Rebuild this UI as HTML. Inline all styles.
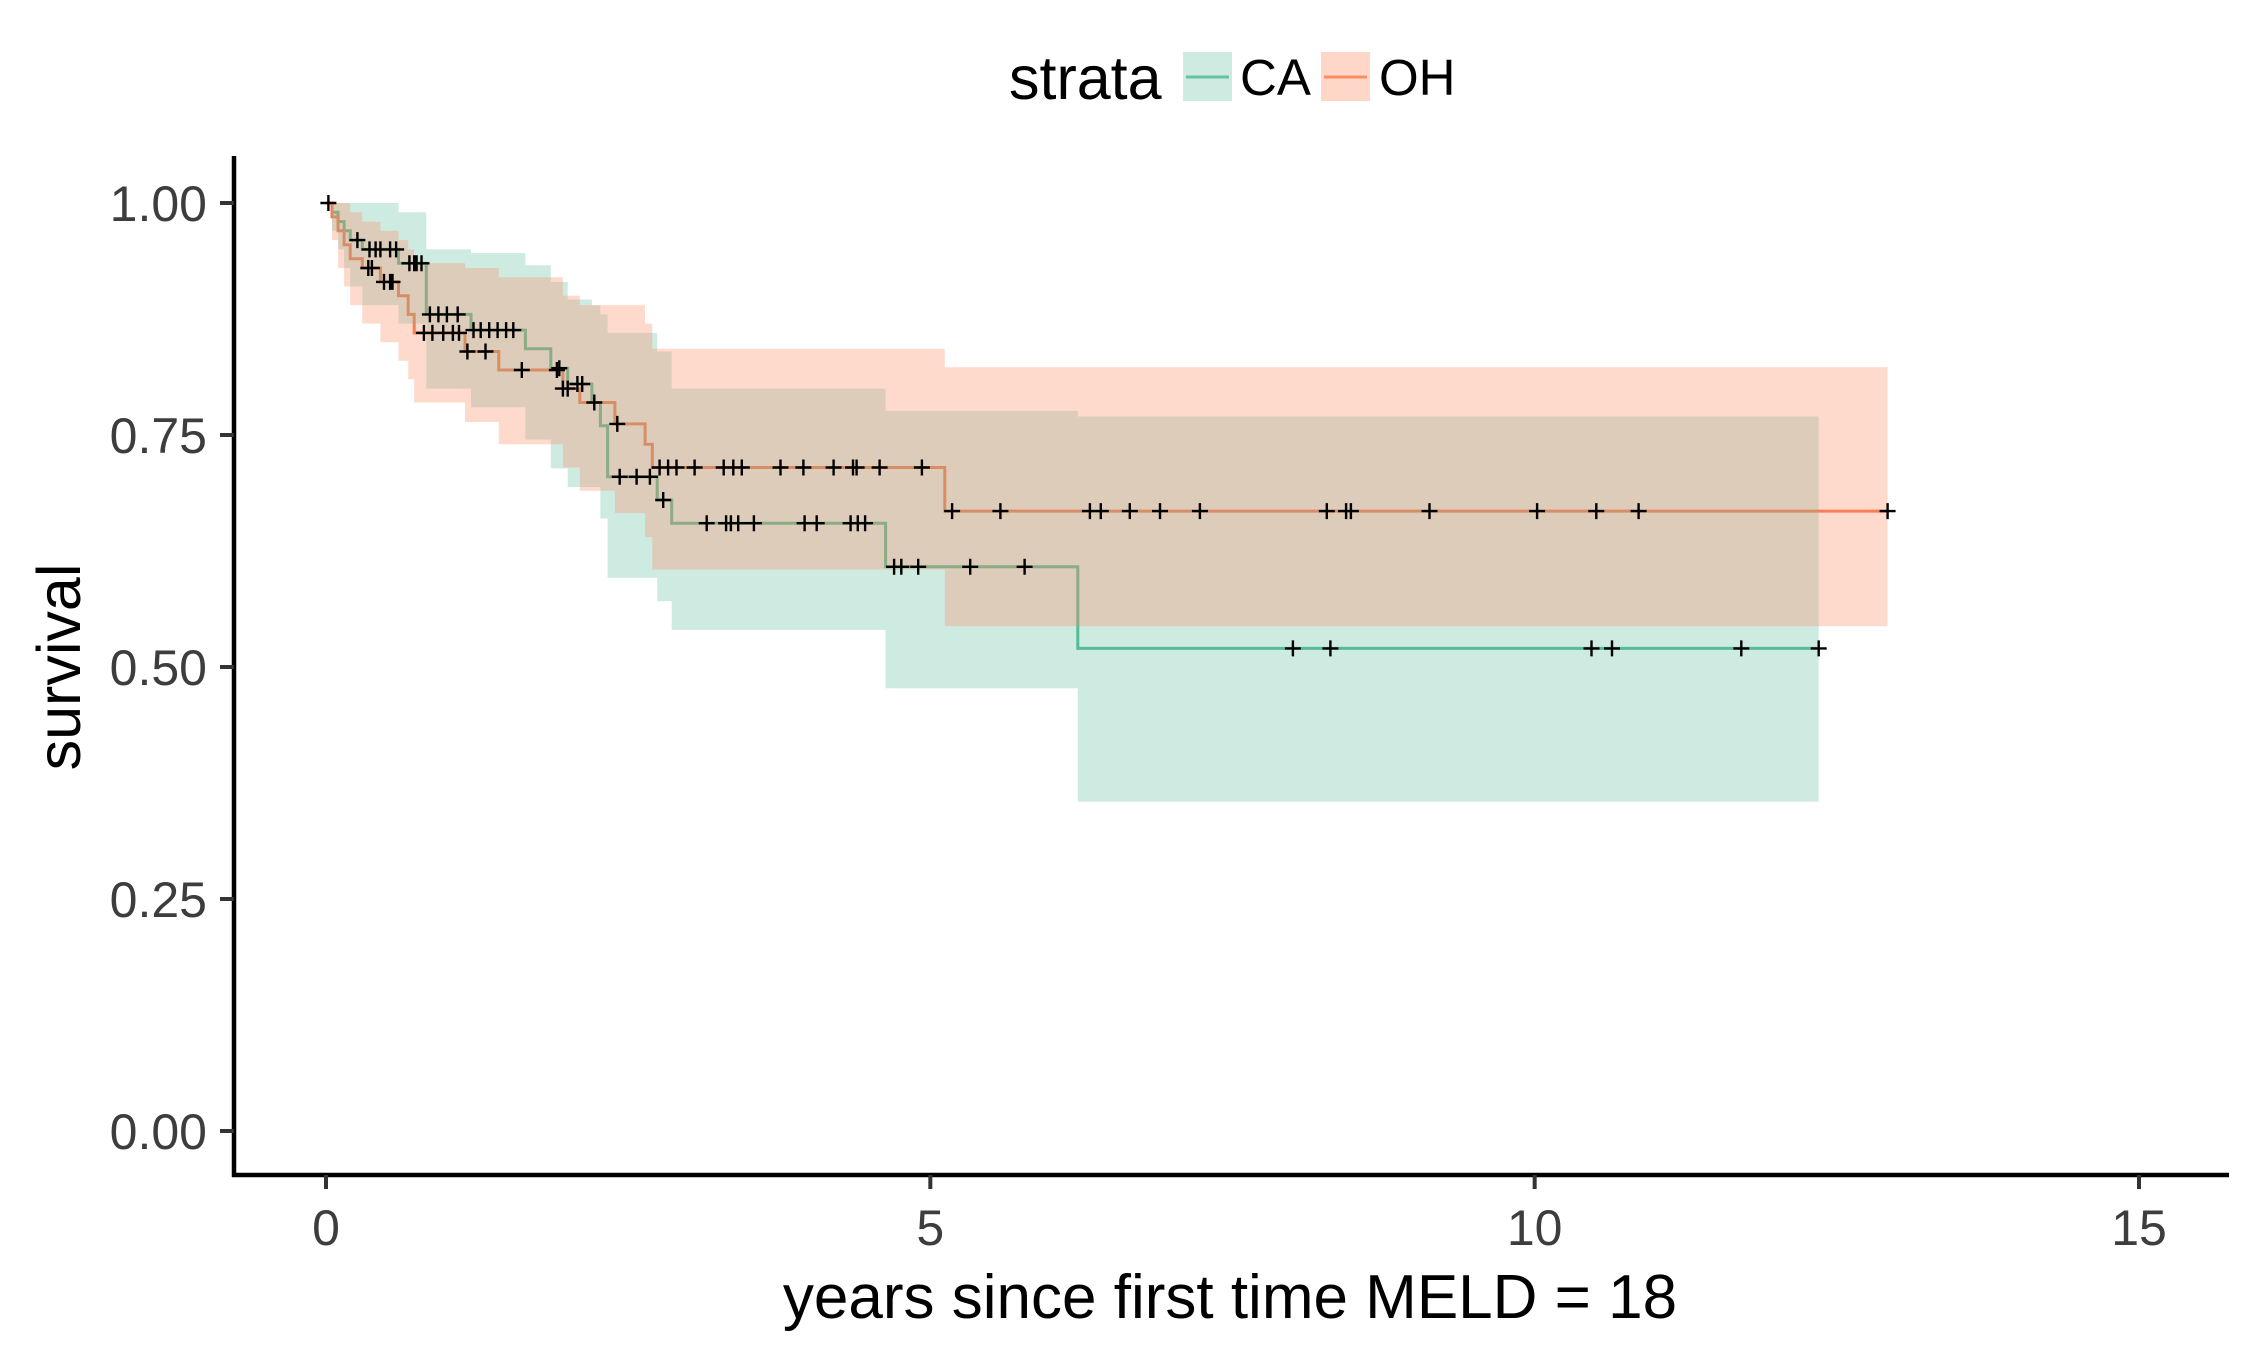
<!DOCTYPE html>
<html><head><meta charset="utf-8"><style>
html,body{margin:0;padding:0;background:#fff}
svg{display:block;font-family:"Liberation Sans",sans-serif}
</style></head><body>
<svg id="chart" width="2250" height="1350" viewBox="0 0 2250 1350" xmlns="http://www.w3.org/2000/svg">
<g id="lines"></g>
<g id="ribbons"></g>
<g id="censors"></g>
<g id="axes"></g>
<text transform="translate(80,667) rotate(-90)" text-anchor="middle" font-size="61" fill="#000">survival</text>
<text x="1230" y="1318" text-anchor="middle" font-size="62" fill="#000">years since first time MELD = 18</text>
<g>
<text x="1009" y="99" font-size="61" fill="#000">strata</text>
<g>
<rect x="1183" y="52" width="49" height="49" fill="#66C2A5" fill-opacity="0.33"/>
<line x1="1186" y1="77" x2="1229" y2="77" stroke="#66C2A5" stroke-width="3"/>
<text x="1240" y="95" font-size="51" fill="#000">CA</text>
</g>
<g>
<rect x="1321" y="52" width="49" height="49" fill="#FC8D62" fill-opacity="0.35"/>
<line x1="1324" y1="77" x2="1367" y2="77" stroke="#FC8D62" stroke-width="3"/>
<text x="1379" y="95" font-size="51" fill="#000">OH</text>
</g>
</g>
</svg>
<script>
const caTimes=[0,0.05,0.1,0.15,0.2,0.3,0.6,0.83,1.2,1.65,1.86,2.0,2.2,2.27,2.33,2.74,2.86,4.63,6.22];
const caSurv=[1,0.99,0.98,0.97,0.96,0.95,0.935,0.88,0.863,0.843,0.822,0.805,0.785,0.76,0.705,0.68,0.655,0.608,0.52];
const caUpper=[1,1,1,1,1,1,0.99,0.95,0.946,0.933,0.915,0.896,0.89,0.88,0.86,0.84,0.80,0.776,0.77];
const caLower=[1,0.97,0.95,0.93,0.91,0.89,0.87,0.80,0.78,0.745,0.714,0.694,0.694,0.66,0.596,0.571,0.54,0.477,0.355];
const caEnd=12.35;
const caCensT=[0.26,0.36,0.41,0.45,0.53,0.58,0.69,0.73,0.75,0.79,0.86,0.93,1.0,1.09,1.22,1.28,1.35,1.42,1.49,1.55,1.93,2.08,2.12,2.22,2.43,2.57,2.68,2.79,3.15,3.31,3.35,3.41,3.54,3.96,4.06,4.34,4.40,4.46,4.70,4.76,4.90,5.33,5.78,8.0,8.31,10.47,10.64,11.71,12.35];
const ohTimes=[0,0.05,0.1,0.15,0.2,0.3,0.45,0.6,0.68,0.73,1.15,1.43,1.96,2.1,2.39,2.64,2.7,5.12];
const ohSurv=[1,0.985,0.97,0.955,0.94,0.93,0.915,0.9,0.88,0.86,0.84,0.82,0.8,0.785,0.762,0.74,0.715,0.668];
const ohUpper=[1,1,1,1,0.99,0.98,0.97,0.96,0.95,0.935,0.93,0.92,0.9,0.89,0.89,0.87,0.843,0.823];
const ohLower=[1,0.96,0.93,0.91,0.89,0.87,0.85,0.83,0.81,0.785,0.764,0.74,0.715,0.69,0.666,0.64,0.605,0.544];
const ohEnd=12.92;
const ohCensT=[0.02,0.35,0.38,0.48,0.53,0.55,0.81,0.88,0.97,1.05,1.10,1.17,1.32,1.62,1.91,1.96,2.0,2.41,2.76,2.83,2.90,3.05,3.29,3.37,3.44,3.76,3.95,4.20,4.36,4.39,4.58,4.93,5.18,5.58,6.32,6.41,6.65,6.90,7.23,8.28,8.44,8.48,9.13,10.02,10.51,10.86,12.92];
const xTicks=[0,5,10,15];
const yTicks=[0,0.25,0.5,0.75,1.0];
const yTickLabels=["0.00","0.25","0.50","0.75","1.00"];

const NS="http://www.w3.org/2000/svg";
function X(t){return 326+t*(2139-326)/15;}
function Y(s){return 1131-s*928;}
function mk(tag,parent){const e=document.createElementNS(NS,tag);parent.appendChild(e);return e;}
function stepPts(times,vals,end){let p=[];for(let i=0;i<times.length;i++){const x0=X(times[i]);const x1=X(i+1<times.length?times[i+1]:end);p.push([x0,Y(vals[i])],[x1,Y(vals[i])]);}return p;}
function survAt(times,vals,t){let v=vals[0];for(let i=0;i<times.length;i++){if(times[i]<=t)v=vals[i];}return v;}

const rib=document.getElementById('ribbons');
function ribbon(times,up,lo,end,color,name){
  const u=stepPts(times,up,end), l=stepPts(times,lo,end).reverse();
  const p=mk('path',rib);
  p.setAttribute('d','M'+u.concat(l).map(a=>a[0].toFixed(1)+','+a[1].toFixed(1)).join('L')+'Z');
  p.setAttribute('fill',color);p.setAttribute('fill-opacity','0.32');
  
  
}
ribbon(caTimes,caUpper,caLower,caEnd,'#66C2A5','ca-ribbon');
ribbon(ohTimes,ohUpper,ohLower,ohEnd,'#FC8D62','oh-ribbon');

const ln=document.getElementById('lines');
function line(times,vals,end,color,name){
  const pts=stepPts(times,vals,end);
  const p=mk('path',ln);
  p.setAttribute('d','M'+pts.map(a=>a[0].toFixed(1)+','+a[1].toFixed(1)).join('L'));
  p.setAttribute('fill','none');p.setAttribute('stroke',color);p.setAttribute('stroke-width','3');
  
  
}
line(caTimes,caSurv,caEnd,'#4fb890','ca-survival-line');
line(ohTimes,ohSurv,ohEnd,'#f47a4c','oh-survival-line');

const cg=document.getElementById('censors');
function censors(ct,times,vals,name){
  let d='';
  ct.forEach(t=>{const x=X(t),y=Y(survAt(times,vals,t));d+=`M${(x-8).toFixed(1)},${y.toFixed(1)}h16M${x.toFixed(1)},${(y-8).toFixed(1)}v16`;});
  const p=mk('path',cg);
  p.setAttribute('d',d);p.setAttribute('stroke','#000');p.setAttribute('stroke-width','2.4');p.setAttribute('fill','none');
  
  
}
censors(caCensT,caTimes,caSurv,'ca-censor-marks');
censors(ohCensT,ohTimes,ohSurv,'oh-censor-marks');

const ax=document.getElementById('axes');
const yl=mk('line',ax);
yl.setAttribute('x1',234);yl.setAttribute('y1',156);yl.setAttribute('x2',234);yl.setAttribute('y2',1177);
yl.setAttribute('stroke','#000');yl.setAttribute('stroke-width','4.5');


const xl=mk('line',ax);
xl.setAttribute('x1',232);xl.setAttribute('y1',1175);xl.setAttribute('x2',2229);xl.setAttribute('y2',1175);
xl.setAttribute('stroke','#000');xl.setAttribute('stroke-width','4.5');


yTicks.forEach((v,i)=>{
  const y=Y(v);
  const t=mk('line',ax);
  t.setAttribute('x1',220);t.setAttribute('x2',234);t.setAttribute('y1',y);t.setAttribute('y2',y);
  t.setAttribute('stroke','#333');t.setAttribute('stroke-width','4');
  
  
  const l=mk('text',ax);
  l.setAttribute('x',207);l.setAttribute('y',y+18);l.setAttribute('text-anchor','end');
  l.setAttribute('font-size','50');l.setAttribute('fill','#3d3d3d');
  l.textContent=yTickLabels[i];
  
  
});
xTicks.forEach(v=>{
  const x=X(v);
  const t=mk('line',ax);
  t.setAttribute('x1',x);t.setAttribute('x2',x);t.setAttribute('y1',1175);t.setAttribute('y2',1189);
  t.setAttribute('stroke','#333');t.setAttribute('stroke-width','4');
  
  
  const l=mk('text',ax);
  l.setAttribute('x',x);l.setAttribute('y',1245);l.setAttribute('text-anchor','middle');
  l.setAttribute('font-size','50');l.setAttribute('fill','#3d3d3d');
  l.textContent=String(v);
  
  
});
</script>
</body></html>
